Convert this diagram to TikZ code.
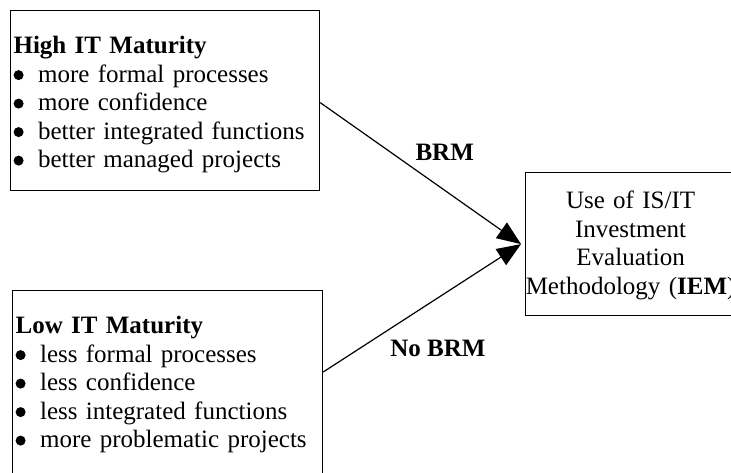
\documentclass[tikz,border=0pt]{standalone}
\usepackage{fontspec}
\setmainfont{Liberation Serif}
\usepackage{tikz}
\usetikzlibrary{arrows.meta,positioning,calc}

% round list bullet
\newcommand{\itemdot}{\tikz[baseline=0pt]\fill (5pt,7pt) circle (5pt);\hspace{14.5pt}}

\begin{document}
\begin{tikzpicture}[
  x=1pt, y=-1pt,
  every node/.style={font=\fontsize{25pt}{28.5pt}\selectfont},
  listbox/.style={draw, line width=1.2pt, anchor=north west, align=left, inner xsep=3pt, inner ysep=0pt, text height=43pt},
  goalbox/.style={draw, line width=1.2pt, anchor=north west, align=center, inner xsep=0pt, inner ysep=0pt, text width=210pt, text height=36pt, text depth=107pt},
  link/.style={line width=1.2pt, -{Triangle[length=24pt,width=19pt]}},
  linklabel/.style={font=\fontsize{25pt}{28.5pt}\selectfont\bfseries},
  ]
  \useasboundingbox (0,0) rectangle (731,472);
  \clip (0,0) rectangle (731,472);

  \node[listbox, text width=303pt, text depth=137pt] (high) at (10,10) {\textbf{High IT Maturity}\\
    \itemdot more formal processes\\
    \itemdot more confidence\\
    \itemdot better integrated functions\\
    \itemdot better managed projects};
  \node[listbox, text width=304pt, text depth=200pt] (low) at (12,290) {\textbf{Low IT Maturity}\\
    \itemdot less formal processes\\
    \itemdot less confidence\\
    \itemdot less integrated functions\\
    \itemdot more problematic projects};
  \node[goalbox] (iem) at (525,172) {Use of IS/IT\\ Investment\\ Evaluation\\ Methodology (\textbf{IEM})};

  \coordinate (meet) at ([xshift=-4pt]iem.west);
  \draw[link] ([yshift=-2pt]high.east) -- (meet) node[linklabel, pos=.62, yshift=38pt] {BRM};
  \draw[link] ([yshift=-82pt]low.north east) -- (meet) node[linklabel, pos=.58, yshift=-51pt] {No BRM};
\end{tikzpicture}
\end{document}
